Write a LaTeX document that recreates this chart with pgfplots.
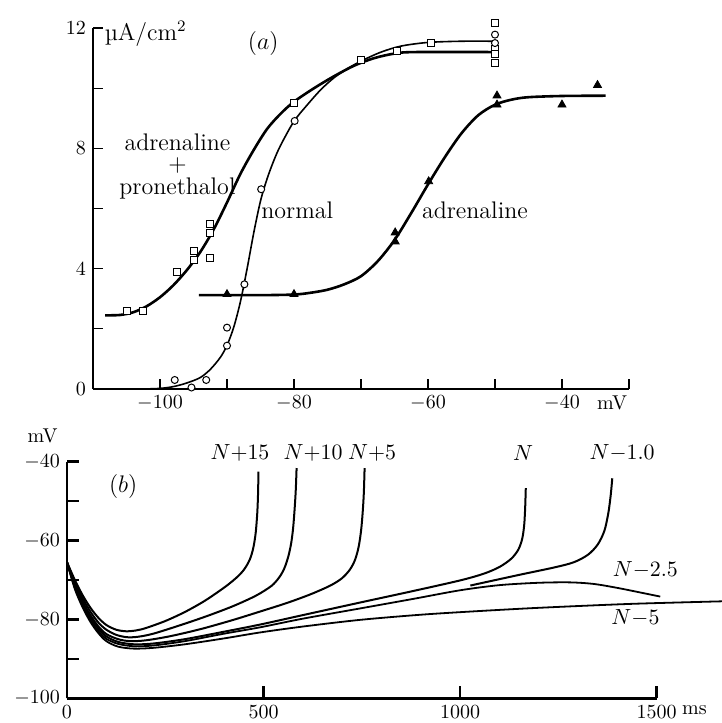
\documentclass[border=0pt]{standalone}
\usepackage{pgfplots}
\pgfplotsset{compat=1.18}
\begin{document}
\begin{tikzpicture}
\useasboundingbox (0,0) rectangle (361pt,-361.5pt);
\def\lbl{\fontsize{12}{14}\selectfont}
\def\nlbl{\fontsize{10.5}{12}\selectfont}
% ---------- panel (a)
\begin{axis}[
  at={(46.5pt,-194.5pt)}, anchor=south west,
  scale only axis, width=268pt, height=180.5pt,
  xmin=-110, xmax=-30, ymin=0, ymax=12,
  axis lines=left, axis line style={-, line width=0.8pt},
  clip=false, tick align=inside,
  xtick={-100,-80,-60,-40}, minor xtick={-90,-70,-50,-30},
  ytick={0,4,8,12}, minor ytick={2,6,10},
  major tick length=5pt, minor tick length=5pt,
  tick style={black, line width=0.6pt},
]
% adrenaline + pronethalol
\addplot[smooth, line width=1.3pt] coordinates {
  (-108.2,2.45)(-106,2.46)(-104,2.55)(-102,2.75)(-100,3.05)(-98,3.45)(-96,3.95)
  (-94,4.55)(-92,5.3)(-90,6.2)(-88,7.15)(-86,7.95)(-84,8.65)(-82,9.15)(-80,9.55)
  (-77,10.0)(-74,10.4)(-71,10.75)(-68,11.0)(-65,11.15)(-62,11.2)(-50,11.2)};
% normal
\addplot[smooth, line width=0.8pt] coordinates {
  (-102.7,0)(-100,0.02)(-98,0.08)(-96,0.2)(-94,0.38)(-92.5,0.65)(-91,1.05)(-90,1.45)
  (-89,2.05)(-88,2.9)(-87,4.0)(-86,5.2)(-85,6.25)(-84,7.0)(-83,7.6)(-82,8.1)
  (-80,8.9)(-78,9.45)(-76,9.95)(-74,10.35)(-72,10.65)(-70,10.9)(-67,11.2)(-64,11.4)
  (-60,11.52)(-55,11.56)(-50,11.56)};
% adrenaline
\addplot[smooth, line width=1.3pt] coordinates {
  (-94.2,3.12)(-85,3.12)(-80,3.14)(-77.5,3.2)(-75,3.3)(-72.5,3.48)(-70,3.75)
  (-67.5,4.25)(-65,4.95)(-62.5,5.85)(-60,6.8)(-57.5,7.7)(-55,8.5)(-52.5,9.1)
  (-50,9.45)(-47.5,9.62)(-45,9.7)(-40,9.74)(-33.5,9.75)};
% measured points
\addplot[only marks, mark=square*, mark size=1.75pt, mark options={fill=white, line width=0.5pt}] coordinates {
  (-105,2.6)(-102.5,2.6)(-97.4,3.9)(-94.9,4.6)(-94.9,4.3)(-92.5,5.5)(-92.5,5.2)
  (-92.5,4.35)(-80,9.5)(-70,10.93)(-64.7,11.24)(-59.6,11.5)(-50,12.18)(-50,11.3)
  (-50,11.15)(-50,10.85)};
\addplot[only marks, mark=*, mark size=1.75pt, mark options={fill=white, line width=0.5pt}] coordinates {
  (-97.8,0.3)(-95.3,0.05)(-93.1,0.3)(-90,2.04)(-90,1.44)(-87.4,3.48)(-84.9,6.64)
  (-79.9,8.91)(-50,11.78)(-50,11.5)};
\addplot[only marks, mark=triangle*, mark size=2.3pt, mark options={fill=black}] coordinates {
  (-90,3.15)(-80,3.15)(-64.9,5.2)(-64.9,4.9)(-59.9,6.9)(-49.7,9.75)(-49.7,9.45)
  (-40,9.45)(-34.7,10.1)};
\node[anchor=west] at (axis cs:-109.3,11.8) {\lbl µA/cm$^2$};
\node at (axis cs:-84.6,11.5) {\lbl $(a)$};
\node[align=center, inner sep=0pt, font=\lbl] at (axis cs:-97.4,7.38)
  {adrenaline\\[-3.5pt]+\\[-2.5pt]pronethalol};
\node at (axis cs:-79.5,5.95) {\lbl normal};
\node at (axis cs:-53,5.95) {\lbl adrenaline};
\node[anchor=north] at (axis cs:-32.5,0) {mV};
\end{axis}
% ---------- panel (b)
\begin{axis}[
  at={(33.5pt,-349.15pt)}, anchor=south west,
  scale only axis, width=294.85pt, height=118.3pt,
  xmin=0, xmax=1500, ymin=-100, ymax=-40,
  axis lines=left, axis line style={-, line width=1.4pt},
  clip=false, tick align=inside,
  xtick={0,500,1000,1500}, xticklabels={0,500,1000,1500},
  ytick={-100,-80,-60,-40}, minor ytick={-90,-70,-50},
  major tick length=6pt, minor tick length=6pt,
  tick style={black, line width=1.3pt},
]
% N+15
\addplot[smooth, line width=1pt] coordinates {
  (0,-65.5)(20,-70.0)(40,-73.9)(60,-77.1)(80,-79.6)(100,-81.4)(125,-82.6)(150,-83.0)
  (175,-82.8)(200,-82.2)(250,-80.4)(300,-78.1)(350,-75.3)(400,-71.9)(430,-69.5)
  (450,-67.4)(465,-64.8)(474,-61.8)(480,-58)(484,-53)(486,-48)(487,-42.5)};
% N+10
\addplot[smooth, line width=1pt] coordinates {
  (0,-65.5)(20,-70.6)(40,-74.7)(60,-78.1)(80,-80.8)(100,-82.6)(125,-83.9)(152,-84.5)
  (180,-84.4)(220,-83.6)(296,-81.2)(360,-79.0)(423,-76.6)(480,-74.0)(520,-71.5)
  (540,-69.3)(553,-67.0)(563,-64)(570,-60.8)(575,-57)(579,-52)(582,-47)(584,-41.6)};
% N+5
\addplot[smooth, line width=1pt] coordinates {
  (0,-65.5)(20,-71.1)(40,-75.5)(60,-79.0)(80,-81.8)(100,-83.7)(130,-85.0)(160,-85.5)
  (200,-85.3)(260,-84.3)(338,-82.5)(420,-80.2)(491,-78.0)(560,-75.8)(620,-73.6)
  (670,-71.4)(700,-69.5)(720,-67.3)(733,-64.8)(742,-61.5)(748,-57.5)(752,-53)
  (755,-48)(757,-41.6)};
% N
\addplot[smooth, line width=1pt] coordinates {
  (0,-65.5)(20,-71.6)(40,-76.1)(60,-79.6)(80,-82.4)(100,-84.3)(130,-85.7)(170,-86.3)
  (220,-86.1)(300,-85.0)(400,-83.1)(491,-81.3)(600,-78.9)(746,-75.7)(880,-72.8)
  (1000,-70.1)(1060,-68.4)(1100,-66.7)(1130,-64.6)(1148,-62.3)(1158,-59.5)
  (1163,-56)(1165.5,-51.5)(1167,-46.7)};
% N-1.0
\addplot[smooth, line width=1pt] coordinates {
  (1026,-71.4)(1150,-68.7)(1240,-66.8)(1289,-65.5)(1325,-63.6)(1350,-61)
  (1367,-57.5)(1377,-53)(1383,-48.5)(1387,-44.2)};
% N-2.5
\addplot[smooth, line width=0.9pt] coordinates {
  (0,-65.5)(20,-72)(40,-76.6)(60,-80.2)(80,-83)(100,-84.9)(130,-86.2)(170,-86.8)
  (220,-86.6)(300,-85.5)(400,-83.6)(491,-82)(600,-79.8)(746,-77.2)(880,-74.8)
  (1000,-72.6)(1100,-71.3)(1200,-70.7)(1280,-70.6)(1340,-71)(1400,-72)(1460,-73.2)(1509,-74.2)};
% N-5
\addplot[smooth, line width=0.9pt] coordinates {
  (0,-65.5)(20,-72.3)(40,-77)(60,-80.7)(80,-83.5)(100,-85.5)(130,-86.9)(170,-87.4)
  (220,-87.2)(300,-86.3)(400,-84.8)(491,-83.3)(600,-81.8)(746,-80.1)(900,-78.8)
  (1026,-78)(1170,-77.2)(1300,-76.6)(1450,-76)(1667,-75.4)};
\node at (axis cs:143,-46.3) {\lbl $(b)$};
\node at (axis cs:440,-37.7) {\nlbl $N{+}15$};
\node at (axis cs:626,-37.7) {\nlbl $N{+}10$};
\node at (axis cs:776,-37.7) {\nlbl $N{+}5$};
\node at (axis cs:1160,-37.7) {\nlbl $N$};
\node at (axis cs:1412,-37.7) {\nlbl $N{-}1.0$};
\node at (axis cs:1471,-67.4) {\nlbl $N{-}2.5$};
\node at (axis cs:1446,-79.6) {\nlbl $N{-}5$};
\node[anchor=south, inner sep=0pt] at (axis cs:-62,-35.4) {mV};
\node[anchor=north] at (axis cs:1596,-100) {ms};
\end{axis}
\end{tikzpicture}
\end{document}
